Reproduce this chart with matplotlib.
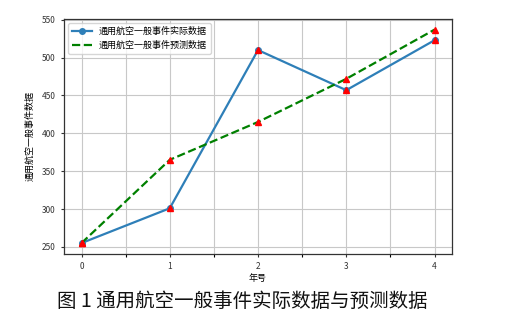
import numpy as np
import matplotlib
matplotlib.use('Agg')
import matplotlib.pyplot as plt
from matplotlib.ticker import MultipleLocator

plt.rcParams['font.family'] = ['Noto Sans CJK SC', 'DejaVu Sans']
plt.rcParams['axes.unicode_minus'] = False

# data
years = [0, 1, 2, 3, 4]
actual = [255, 301, 510, 457, 523]
predicted = [255, 365, 415, 472, 537]

fig = plt.figure(figsize=(5.15, 3.16), dpi=100)
ax = fig.add_axes([0.124, 0.197, 0.754, 0.743])

ax.plot(years, actual, 'o-', color='#2e7fb8', linewidth=1.6, markersize=4,
        label='通用航空一般事件实际数据')
ax.plot(years, predicted, 'g--', linewidth=1.6, label='通用航空一般事件预测数据')
ax.plot(years, actual, 'r^', markersize=4.5)
ax.plot(years, predicted, 'r^', markersize=4.5)

ax.xaxis.set_major_locator(MultipleLocator(1))
ax.xaxis.set_minor_locator(MultipleLocator(0.5))
ax.yaxis.set_major_locator(MultipleLocator(50))
ax.grid(True, which='both', axis='x', color='#c8c8c8', linewidth=0.8)
ax.grid(True, which='major', axis='y', color='#c8c8c8', linewidth=0.8)
ax.set_axisbelow(True)
ax.tick_params(labelsize=6, length=2.5, width=0.8, colors='#333333')
ax.tick_params(which='minor', length=2.5, width=0.8)
for s in ax.spines.values():
    s.set_color('#333333')
    s.set_linewidth(0.9)

ax.set_xlabel('年号', fontsize=6.5, labelpad=2)
ax.set_ylabel('通用航空一般事件数据', fontsize=6.5, labelpad=5)
ax.legend(loc='upper left', fontsize=6.5, framealpha=0.8, edgecolor='#cccccc',
          handlelength=2.2)

fig.text(0.47, 0.045, '图 1 通用航空一般事件实际数据与预测数据', ha='center', va='center',
         fontsize=14, fontweight='medium', color='#111111')

fig.savefig('out.png', dpi=100)
